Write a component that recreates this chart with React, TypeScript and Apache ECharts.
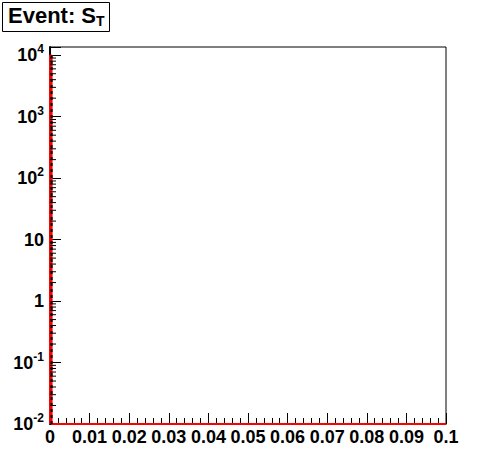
import React, { useEffect, useRef } from "react";
import * as echarts from "echarts";

// ---- data ----
const titleMain = "Event: S";
const titleSub = "T";
const xMin = 0;
const xMax = 0.1;
const xStep = 0.01;
const yMin = 0.01;
const yMax = 13600;
// histogram bins: edges and counts
const binEdges = [0, 0.0004, 0.1];
const binCounts = [9900, 0];
// minor tick multipliers on log axis
const minorMultipliers = [2, 3, 4, 5, 6, 7, 8, 9];
const decades = [-2, -1, 0, 1, 2, 3, 4];

const FONT = "Liberation Sans, Arial, Helvetica, sans-serif";

function buildStep(): number[][] {
  const pts: number[][] = [[binEdges[0], yMin]];
  for (let i = 0; i < binCounts.length; i++) {
    const v = Math.max(binCounts[i], yMin);
    pts.push([binEdges[i], v]);
    pts.push([binEdges[i + 1], v]);
  }
  pts.push([binEdges[binEdges.length - 1], yMin]);
  return pts;
}

function minorYTicks(): number[][] {
  const out: number[][] = [];
  decades.forEach((d) => {
    minorMultipliers.forEach((m) => {
      const v = m * Math.pow(10, d);
      if (v > yMin && v < yMax) out.push([xMin, v]);
    });
  });
  return out;
}

function yLabel(v: number): string {
  const e = Math.round(Math.log10(v));
  if (Math.abs(Math.log10(v) - e) > 1e-6) return "";
  if (e === 0) return "{b|1}";
  if (e === 1) return "{b|10}";
  return "{b|10}{s|" + e + "}";
}

export default function App() {
  const ref = useRef<HTMLDivElement>(null);
  useEffect(() => {
    if (!ref.current) return;
    const chart = echarts.init(ref.current, null, { renderer: "svg" });
    const step = buildStep();
    chart.setOption({
      animation: false,
      backgroundColor: "#fff",
      grid: {
        left: 50,
        right: 50,
        top: 47,
        bottom: 48,
        show: true,
        borderColor: "#000",
        borderWidth: 1,
        backgroundColor: "transparent",
      },
      xAxis: {
        type: "value",
        min: xMin,
        max: xMax,
        interval: xStep,
        axisLine: { show: true, lineStyle: { color: "#000", width: 1 } },
        axisTick: { show: true, inside: true, length: 11, lineStyle: { color: "#000" } },
        minorTick: { show: true, splitNumber: 5, length: 6, lineStyle: { color: "#000" } },
        splitLine: { show: false },
        axisLabel: {
          color: "#000",
          fontFamily: FONT,
          fontWeight: "bold",
          fontSize: 18,
          margin: 4,
          formatter: (v: number) => String(Number(v.toFixed(3))),
        },
      },
      yAxis: {
        type: "log",
        logBase: 10,
        min: yMin,
        max: yMax,
        splitNumber: 7,
        axisLine: { show: true, lineStyle: { color: "#000", width: 2 } },
        axisTick: { show: true, inside: true, length: 11, lineStyle: { color: "#000" } },
        splitLine: { show: false },
        axisLabel: {
          color: "#000",
          margin: 6,
          formatter: yLabel,
          rich: {
            b: { fontFamily: FONT, fontWeight: "bold", fontSize: 18, color: "#000" },
            s: {
              fontFamily: FONT,
              fontWeight: "bold",
              fontSize: 12,
              color: "#000",
              padding: [0, 0, 12, 0],
            },
          },
        },
      },
      graphic: [
        {
          type: "rect",
          shape: { x: 2.5, y: 2.5, width: 107, height: 29 },
          style: { fill: "#fff", stroke: "#000", lineWidth: 1 },
        },
        {
          type: "text",
          x: 8,
          y: 4,
          style: {
            text: titleMain,
            fontFamily: FONT,
            fontWeight: "bold",
            fontSize: 22,
            fill: "#000",
          },
        },
        {
          type: "text",
          x: 96,
          y: 14,
          style: {
            text: titleSub,
            fontFamily: FONT,
            fontWeight: "bold",
            fontSize: 14,
            fill: "#000",
          },
        },
      ],
      series: [
        {
          type: "line",
          data: step,
          symbol: "none",
          clip: false,
          z: 5,
          lineStyle: { color: "#ff0000", width: 2 },
        },
        {
          type: "line",
          data: [
            [binEdges[1], yMin],
            [binEdges[1], binCounts[0]],
          ],
          symbol: "none",
          clip: false,
          z: 6,
          lineStyle: { color: "#000", width: 2, type: [3, 3] },
        },
        {
          type: "custom",
          data: minorYTicks(),
          clip: false,
          z: 7,
          renderItem: (params: any, api: any) => {
            const p = api.coord([api.value(0), api.value(1)]);
            return {
              type: "line",
              shape: { x1: p[0], y1: p[1], x2: p[0] + 6, y2: p[1] },
              style: { stroke: "#000", lineWidth: 1 },
            };
          },
        },
      ],
    });
    return () => chart.dispose();
  }, []);
  return (
    <div
      ref={ref}
      style={{ position: "fixed", left: 0, top: 0, width: 496, height: 472, background: "#fff" }}
    />
  );
}
